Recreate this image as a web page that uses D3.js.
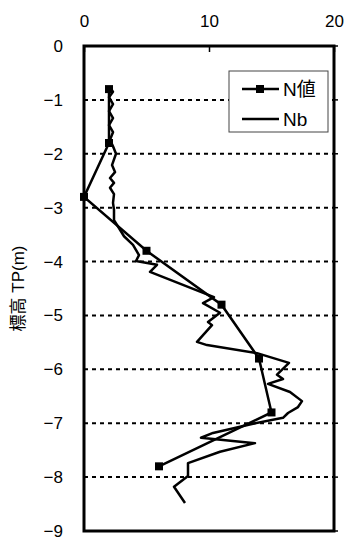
<!DOCTYPE html>
<html>
<head>
<meta charset="utf-8">
<script src="https://cdn.jsdelivr.net/npm/d3@7"></script>
<style>
  body { margin: 0; background: #fff; }
  svg text { font-family: "Liberation Sans", Arial, "Noto Sans CJK JP", sans-serif; fill: #000; }
</style>
</head>
<body>
<div></div>
<script>
'use strict';

// N値 (SPT) : depth (m) and value
var nDepth = [-0.8, -1.8, -2.8, -3.8, -4.8, -5.8, -6.8, -7.8];
var nValue = [2, 2, 0, 5, 11, 14, 15, 6];

// Nb : depth (m) and value
var nbDepth = [-0.76, -0.85, -0.95, -1.08, -1.21, -1.34, -1.47, -1.60, -1.74, -1.86,
  -2.00, -2.21, -2.34, -2.45, -2.54, -2.63, -2.75, -2.91, -3.04, -3.23,
  -3.41, -3.53, -3.69, -3.88, -3.99, -4.06, -4.19, -4.66, -4.77, -4.95,
  -5.12, -5.18, -5.49, -5.55, -5.70, -5.88, -6.10, -6.18, -6.27, -6.42,
  -6.59, -6.70, -6.81, -6.90, -7.01, -7.18, -7.27, -7.37, -7.53, -7.74,
  -7.98, -8.18, -8.48];
var nbValue = [2.08, 2.32, 2.0, 2.32, 2.0, 2.32, 2.0, 2.32, 2.08, 2.32,
  2.56, 2.24, 2.48, 2.08, 2.4, 2.08, 2.4, 2.32, 2.4, 2.4,
  2.88, 3.2, 3.92, 4.4, 4.16, 5.84, 5.28, 10.4, 9.52, 10.88,
  9.92, 10.24, 9.04, 9.84, 13.84, 16.4, 15.44, 15.92, 14.72, 16.48,
  17.44, 17.12, 16.32, 15.92, 13.52, 10.32, 9.36, 13.68, 10.88, 8.32,
  8.32, 7.2, 8.08];

var xTicks = [0, 10, 20];
var yTicks = [0, -1, -2, -3, -4, -5, -6, -7, -8, -9];
var legendNames = ["N値", "Nb"];
var yTitle = "標高 TP(m)";

var svgWidth = 363;
var svgHeight = 539;
var margin = {top: 46, right: 29, bottom: 8, left: 84};
var chartWidth = svgWidth - margin.left - margin.right;
var chartHeight = svgHeight - margin.top - margin.bottom;

var xScale = d3.scaleLinear().domain([0, 20]).range([0, chartWidth]);
var yScale = d3.scaleLinear().domain([0, -9]).range([0, chartHeight]);

var nData = nDepth.map(function(d, i) { return {depth: d, value: nValue[i]}; });
var nbData = nbDepth.map(function(d, i) { return {depth: d, value: nbValue[i]}; });

var line = d3.line()
    .x(function(d) { return xScale(d.value); })
    .y(function(d) { return yScale(d.depth); });

var svg = d3.select("body").select("div")
  .append("svg")
    .attr("width", svgWidth)
    .attr("height", svgHeight);

var chart = svg.append("g")
    .attr("transform", "translate(" + margin.left + "," + margin.top + ")");

// dashed gridlines
chart.append("g")
  .selectAll("line")
  .data(yTicks.filter(function(d) { return d !== 0 && d !== -9; }))
  .enter().append("line")
    .attr("x1", 0)
    .attr("x2", chartWidth)
    .attr("y1", function(d) { return yScale(d); })
    .attr("y2", function(d) { return yScale(d); })
    .attr("stroke", "#000")
    .attr("stroke-width", 2)
    .attr("stroke-dasharray", "4,4");

// right side small ticks
chart.append("g")
  .selectAll("line")
  .data(yTicks)
  .enter().append("line")
    .attr("x1", chartWidth)
    .attr("x2", chartWidth + 4)
    .attr("y1", function(d) { return yScale(d); })
    .attr("y2", function(d) { return yScale(d); })
    .attr("stroke", "#000")
    .attr("stroke-width", 1.5);

// top axis
var xAxis = chart.append("g")
  .call(d3.axisTop(xScale).tickValues(xTicks).tickSize(-6).tickPadding(19));
xAxis.select(".domain").remove();
xAxis.selectAll("line").attr("stroke-width", 1.5);
xAxis.selectAll("text").attr("font-size", 17);

// left axis
var yAxis = chart.append("g")
  .call(d3.axisLeft(yScale).tickValues(yTicks).tickSize(0).tickPadding(21));
yAxis.select(".domain").remove();
yAxis.selectAll("text").attr("font-size", 17);

// plot frame
chart.append("rect")
    .attr("x", 0)
    .attr("y", 0)
    .attr("width", chartWidth)
    .attr("height", chartHeight)
    .attr("fill", "none")
    .attr("stroke", "#000")
    .attr("stroke-width", 3);

// legend
var legend = chart.append("g")
    .attr("transform", "translate(" + (229 - margin.left) + "," + (71 - margin.top) + ")");
legend.append("rect")
    .attr("width", 99)
    .attr("height", 61)
    .attr("fill", "#fff")
    .attr("stroke", "#444")
    .attr("stroke-width", 1);
legend.selectAll(".key")
  .data(legendNames)
  .enter().append("line")
    .attr("x1", 13)
    .attr("x2", 50)
    .attr("y1", function(d, i) { return 18 + i * 30; })
    .attr("y2", function(d, i) { return 18 + i * 30; })
    .attr("stroke", "#000")
    .attr("stroke-width", 2.5);
legend.append("rect")
    .attr("x", 27)
    .attr("y", 14)
    .attr("width", 8)
    .attr("height", 8)
    .attr("fill", "#000");
legend.selectAll("text")
  .data(legendNames)
  .enter().append("text")
    .attr("x", 54)
    .attr("y", function(d, i) { return 18 + i * 30; })
    .attr("dy", "0.36em")
    .attr("font-size", 19)
    .text(function(d) { return d; });

// Nb line
chart.append("path")
    .datum(nbData)
    .attr("fill", "none")
    .attr("stroke", "#000")
    .attr("stroke-width", 2.5)
    .attr("stroke-linejoin", "round")
    .attr("d", line);

// N値 line with markers
chart.append("path")
    .datum(nData)
    .attr("fill", "none")
    .attr("stroke", "#000")
    .attr("stroke-width", 2.5)
    .attr("d", line);

chart.selectAll(".marker")
  .data(nData)
  .enter().append("rect")
    .attr("class", "marker")
    .attr("x", function(d) { return xScale(d.value) - 4; })
    .attr("y", function(d) { return yScale(d.depth) - 4; })
    .attr("width", 8)
    .attr("height", 8)
    .attr("fill", "#000");

// y axis title
svg.append("text")
    .attr("transform", "translate(24," + (margin.top + chartHeight / 2) + ") rotate(-90)")
    .attr("text-anchor", "middle")
    .attr("font-size", 17)
    .text(yTitle);
</script>
</body>
</html>
